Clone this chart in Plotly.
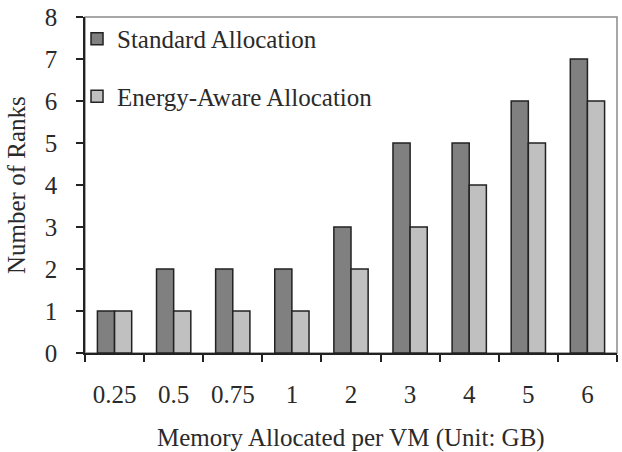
import plotly.graph_objects as go

categories = ["0.25", "0.5", "0.75", "1", "2", "3", "4", "5", "6"]
standard = [1, 2, 2, 2, 3, 5, 5, 6, 7]
energy_aware = [1, 1, 1, 1, 2, 3, 4, 5, 6]
x_title = "Memory Allocated per VM (Unit: GB)"
y_title = "Number of Ranks"

FONT = "'Liberation Serif', 'Times New Roman', serif"
TXT = "#2a2a2a"

fig = go.Figure()
fig.add_trace(go.Bar(x=categories, y=standard, name="Standard Allocation",
                     marker=dict(color="#808080", line=dict(color="#222222", width=1.5)),
                     legendgroup="a"))
fig.add_trace(go.Bar(x=categories, y=energy_aware, name="Energy-Aware Allocation",
                     marker=dict(color="#c0c0c0", line=dict(color="#222222", width=1.5)),
                     legendgroup="b"))

fig.update_layout(
    width=622, height=452,
    margin=dict(l=85, r=5, t=17, b=99),
    paper_bgcolor="white", plot_bgcolor="white",
    font=dict(family=FONT, size=25, color=TXT),
    barmode="group", bargap=0.42, bargroupgap=0,
    legend=dict(x=-0.015, y=1.003, xanchor="left", yanchor="top",
                traceorder="grouped", tracegroupgap=22,
                bgcolor="rgba(0,0,0,0)", font=dict(size=25, color=TXT)),
    shapes=[dict(type="rect", xref="paper", yref="paper", x0=0, x1=1, y0=0, y1=1,
                 line=dict(color="#8a8a8a", width=1.5), layer="below")],
    annotations=[
        dict(text=x_title, xref="paper", yref="paper", x=0.5, y=0,
             xanchor="center", yanchor="middle", yshift=-85, showarrow=False,
             font=dict(size=25, color=TXT)),
        dict(text=y_title, xref="paper", yref="paper", x=0, y=0.5,
             xanchor="center", yanchor="middle", xshift=-69, textangle=-90,
             showarrow=False, font=dict(size=25, color=TXT)),
    ],
)
fig.update_xaxes(
    showline=True, linecolor="#222222", linewidth=1.5,
    ticks="outside", tickson="boundaries", ticklen=7, tickcolor="#222222", tickwidth=1.5,
    ticklabelstandoff=18,
    tickfont=dict(size=25),
    showgrid=False,
)
fig.update_yaxes(
    range=[0, 8], dtick=1,
    showline=True, linecolor="#222222", linewidth=1.5,
    ticks="outside", ticklen=7, tickcolor="#222222", tickwidth=1.5,
    ticklabelstandoff=14,
    tickfont=dict(size=25),
    showgrid=False, zeroline=False,
)

fig.write_html("out.html")
